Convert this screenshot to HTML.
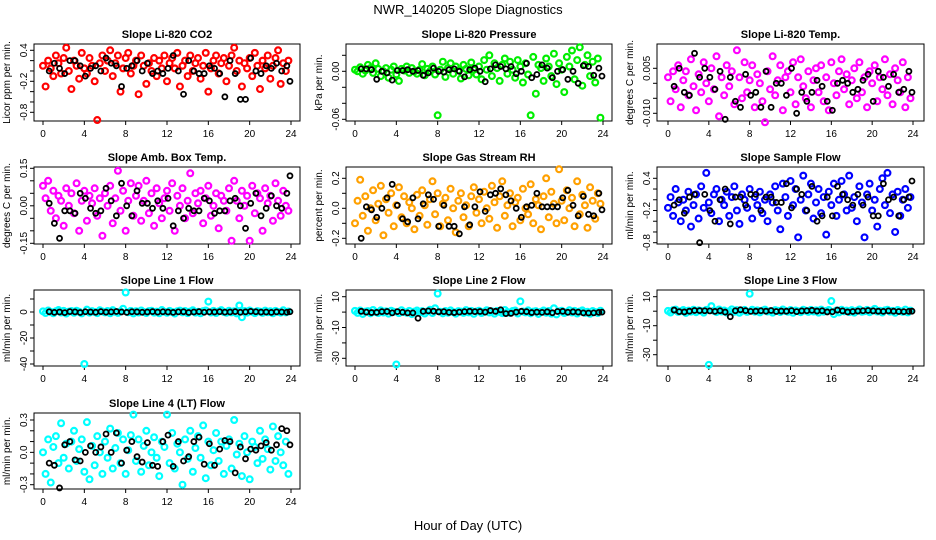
<!DOCTYPE html>
<html><head><meta charset="utf-8"><style>
html,body{margin:0;padding:0;background:#fff;}
svg{display:block;font-family:"Liberation Sans",sans-serif;}
</style></head><body>
<svg id="chart" width="936" height="540" xmlns="http://www.w3.org/2000/svg">
<text x="468" y="14" text-anchor="middle" font-size="13">NWR_140205  Slope Diagnostics</text>
<text x="468" y="530" text-anchor="middle" font-size="13">Hour of Day (UTC)</text>
</svg>
<script>
const hoursColored=[0,0.25,0.5,0.75,1,1.25,1.5,1.75,2,2.25,2.5,2.75,3,3.25,3.5,3.75,4,4.25,4.5,4.75,5,5.25,5.5,5.75,6,6.25,6.5,6.75,7,7.25,7.5,7.75,8,8.25,8.5,8.75,9,9.25,9.5,9.75,10,10.25,10.5,10.75,11,11.25,11.5,11.75,12,12.25,12.5,12.75,13,13.25,13.5,13.75,14,14.25,14.5,14.75,15,15.25,15.5,15.75,16,16.25,16.5,16.75,17,17.25,17.5,17.75,18,18.25,18.5,18.75,19,19.25,19.5,19.75,20,20.25,20.5,20.75,21,21.25,21.5,21.75,22,22.25,22.5,22.75,23,23.25,23.5,23.75];
const hoursBlack=[0.6,1.1,1.6,2.1,2.6,3.1,3.6,4.1,4.6,5.1,5.6,6.1,6.6,7.1,7.6,8.1,8.6,9.1,9.6,10.1,10.6,11.1,11.6,12.1,12.6,13.1,13.6,14.1,14.6,15.1,15.6,16.1,16.6,17.1,17.6,18.1,18.6,19.1,19.6,20.1,20.6,21.1,21.6,22.1,22.6,23.1,23.6,23.9];
const xTicks=[0,4,8,12,16,20,24];

const co2Values=[0.1,-0.3,0.2,0.05,-0.1,0.3,0.15,-0.05,0.25,0.45,0.0,-0.35,0.2,0.1,-0.15,0.35,0.05,-0.05,0.25,0.1,-0.2,-0.95,0.15,0.3,0.0,0.2,0.4,-0.1,0.15,0.3,-0.4,0.05,0.25,0.35,-0.05,0.1,0.2,-0.45,0.3,0.1,-0.25,0.15,0.0,0.25,-0.1,0.2,0.05,0.3,-0.2,0.15,0.25,0.05,0.35,-0.3,0.1,0.2,-0.1,0.3,0.0,0.15,0.25,-0.15,0.1,0.35,-0.4,0.05,0.2,0.3,-0.05,0.15,0.25,-0.2,0.1,0.3,0.45,0.0,0.2,-0.3,0.15,0.05,0.25,-0.1,0.35,0.1,-0.35,0.2,0.05,0.3,-0.15,0.1,0.25,0.4,-0.25,0.15,0.0,0.2];
const co2Black=[0.0,0.15,0.05,-0.05,0.2,0.2,0.1,-0.1,0.05,0.1,0.0,0.25,0.15,0.1,-0.3,0.05,0.1,0.2,0.0,0.15,-0.05,0.0,-0.05,0.05,0.3,0.0,-0.45,0.2,0.0,-0.05,-0.05,0.1,0.05,-0.05,-0.5,0.2,-0.05,-0.55,-0.55,0.25,0.0,-0.05,0.1,0.05,0.15,0.0,0.1,-0.2];
const pressureValues=[0.002,0.0,0.005,-0.003,0.001,0.008,0.004,-0.002,0.01,0.003,-0.006,0.0,0.004,-0.008,0.002,0.006,-0.004,-0.012,0.003,0.001,0.006,-0.002,0.004,0.0,-0.003,0.002,0.009,-0.005,0.003,0.0,0.006,-0.004,-0.055,0.002,0.012,-0.007,0.004,0.01,-0.003,0.006,0.001,-0.009,0.008,0.003,-0.005,0.011,0.002,-0.004,0.006,-0.01,0.014,0.002,0.02,-0.006,0.01,0.004,-0.012,0.008,0.016,-0.003,0.012,0.002,-0.008,0.014,0.006,-0.014,0.01,-0.004,-0.055,0.018,-0.028,0.008,0.004,-0.012,0.016,0.006,-0.006,0.022,-0.016,0.01,0.002,-0.026,0.018,0.006,0.026,-0.01,0.014,0.03,-0.018,0.008,0.02,-0.006,0.012,-0.014,0.016,-0.058];
const pressureBlack=[0.003,0.003,0.002,-0.01,0.0,-0.002,-0.011,0.001,0.001,0.002,0.0,0.001,-0.005,-0.002,0.004,0.0,-0.001,0.002,0.003,0.0,-0.007,0.002,0.004,0.0,-0.013,0.003,0.008,0.006,0.003,0.006,-0.003,0.0,0.01,-0.008,-0.004,0.008,0.004,-0.008,0.0,0.002,-0.01,0.0,-0.015,0.007,0.006,-0.005,0.004,-0.006];
const tempValues=[0.002,-0.006,0.004,-0.002,0.006,-0.008,0.001,0.004,-0.004,0.008,-0.001,-0.009,0.003,-0.003,0.007,0.0,-0.006,0.005,-0.002,0.009,-0.011,0.002,-0.004,0.006,-0.001,0.004,-0.007,0.011,0.002,-0.005,0.007,-0.003,0.001,0.006,-0.008,0.003,0.0,-0.006,-0.013,0.004,-0.002,0.009,-0.004,0.001,0.006,-0.009,0.002,0.004,-0.003,0.007,-0.007,0.002,0.008,-0.001,-0.005,0.004,-0.008,0.001,0.005,-0.003,0.006,-0.006,0.002,-0.009,0.007,0.0,-0.004,0.004,0.008,-0.002,0.003,-0.007,0.001,0.005,-0.005,0.007,-0.003,0.002,-0.008,0.004,0.0,0.006,-0.006,0.002,-0.002,0.008,-0.004,0.003,-0.007,0.005,0.001,-0.003,0.007,-0.008,0.002,-0.005];
const tempBlack=[-0.001,0.005,-0.003,-0.004,0.01,0.002,0.005,0.002,-0.002,0.004,-0.012,0.002,-0.006,-0.008,0.003,-0.004,-0.003,-0.008,0.004,-0.008,0.0,0.0,-0.004,0.005,-0.01,-0.003,-0.006,-0.003,0.001,-0.001,-0.006,-0.009,0.0,0.001,0.0,-0.003,-0.002,0.001,0.003,-0.006,0.004,0.002,-0.001,0.003,-0.003,-0.002,0.004,-0.003];
const ambValues=[0.08,0.03,0.1,-0.02,0.06,-0.05,0.04,0.02,-0.08,0.07,0.0,0.05,-0.03,0.09,-0.1,0.02,0.06,-0.06,0.04,0.01,0.07,-0.04,0.03,-0.12,0.05,0.0,0.08,-0.07,0.03,0.14,-0.02,0.06,-0.1,0.02,0.09,-0.04,0.04,0.08,-0.06,0.02,0.1,-0.03,0.05,-0.08,0.07,0.01,-0.05,0.03,0.06,-0.02,0.09,-0.1,0.04,0.0,0.07,-0.05,0.02,0.13,-0.03,0.05,0.01,0.06,-0.07,0.03,0.08,-0.04,0.0,0.05,-0.09,0.04,0.02,-0.02,0.07,-0.14,0.1,0.02,-0.05,0.06,0.0,0.04,-0.14,0.08,-0.03,0.05,0.03,-0.1,0.07,0.01,0.04,-0.06,0.09,0.02,-0.04,0.06,0.0,-0.02];
const ambBlack=[0.01,-0.07,-0.13,-0.02,-0.02,-0.03,0.05,0.03,-0.01,-0.03,-0.02,0.07,0.02,-0.04,0.09,0.0,-0.04,0.06,0.01,0.01,-0.01,0.02,-0.01,0.03,-0.08,-0.02,-0.05,-0.01,-0.02,-0.02,0.03,0.02,-0.03,-0.02,-0.02,0.02,0.03,0.0,-0.09,0.01,0.05,-0.04,-0.01,0.04,0.0,-0.01,0.05,0.12];
const rhValues=[-0.1,0.05,0.19,-0.05,0.08,-0.15,0.0,0.12,-0.08,0.03,0.15,-0.18,0.06,-0.03,0.1,-0.12,0.02,0.14,-0.06,0.08,-0.1,0.04,0.0,-0.14,0.09,-0.05,0.12,0.02,-0.11,0.06,0.18,-0.04,0.1,-0.12,0.03,0.07,-0.08,0.13,0.0,-0.16,0.05,0.1,-0.06,0.02,-0.12,0.08,0.14,-0.03,0.06,-0.1,0.11,0.0,-0.07,0.15,0.04,-0.13,0.08,0.18,-0.05,0.02,0.1,-0.12,0.04,0.07,-0.08,0.13,0.0,-0.04,0.16,-0.1,0.06,0.02,-0.14,0.08,0.2,-0.06,0.11,0.03,-0.1,0.26,0.05,-0.08,0.12,0.0,0.07,-0.12,0.18,-0.04,0.09,0.02,-0.13,0.14,0.05,-0.07,0.1,0.03];
const rhBlack=[-0.2,0.01,-0.01,-0.06,0.0,0.07,0.16,0.02,-0.07,-0.09,0.07,-0.07,0.03,0.09,0.06,-0.12,0.02,-0.12,-0.12,-0.17,0.01,-0.11,0.01,0.11,-0.02,0.09,0.1,0.13,0.09,0.05,0.0,-0.06,0.01,0.02,0.1,0.01,0.01,0.01,0.01,0.07,0.12,0.02,-0.05,0.08,-0.04,-0.05,0.1,-0.01];
const sampleValues=[-0.15,0.05,-0.3,0.2,-0.05,-0.4,0.0,-0.2,0.15,-0.5,-0.1,0.1,-0.35,0.25,-0.15,0.5,-0.05,-0.25,0.1,0.2,-0.4,0.0,-0.1,0.15,-0.3,0.05,0.25,-0.2,-0.45,0.1,0.0,-0.15,0.2,-0.35,0.05,-0.1,0.15,-0.25,0.0,-0.4,0.1,-0.05,0.25,-0.2,-0.55,0.3,0.05,-0.3,0.35,-0.1,0.2,-0.7,0.0,0.45,-0.2,0.1,0.3,-0.35,-0.05,0.2,-0.25,0.05,-0.65,0.15,-0.1,0.3,-0.3,0.0,0.35,0.1,-0.2,0.45,-0.15,0.05,-0.4,0.25,-0.05,-0.7,0.1,0.3,-0.2,0.0,-0.5,0.2,0.4,-0.1,0.5,-0.25,0.1,-0.6,0.15,-0.3,0.0,0.2,-0.15,0.05];
const sampleBlack=[-0.1,0.0,-0.25,0.05,0.1,-0.8,0.1,-0.2,-0.4,0.0,0.2,-0.45,0.05,0.05,-0.1,0.1,0.1,-0.2,0.05,0.05,-0.05,-0.05,0.3,-0.15,0.2,0.1,-0.2,0.25,-0.4,-0.3,0.05,-0.3,0.25,0.1,0.0,-0.1,0.1,-0.1,0.05,-0.3,-0.3,0.3,0.0,0.05,-0.3,0.0,0.05,0.35];
const line1Values=[0.5,-0.8,1.2,0.0,-1.0,0.6,1.5,-0.4,0.9,-1.2,0.3,0.8,-0.6,1.0,0.2,-1.1,-40,1.8,-0.5,0.7,0.0,-0.9,1.3,0.4,-0.3,0.8,-1.0,1.4,0.1,-0.7,0.5,2.5,15,-0.2,0.9,-1.1,0.6,-0.4,1.2,0.0,-0.8,0.7,1.0,-0.5,0.3,-1.0,1.5,0.2,-0.6,0.9,0.0,-1.2,0.6,1.1,-0.3,0.8,-0.9,0.4,1.3,-0.5,0.2,-1.0,0.7,1.2,8,-0.4,0.9,-0.8,0.5,1.4,0.0,-0.6,1.0,-0.3,0.6,-1.1,5,-4,0.8,-0.5,1.2,0.2,-0.9,0.7,0.3,-0.7,1.1,-0.2,0.6,-1.0,0.9,0.1,-0.5,1.3,-0.3,0.4];
const line1Black=[0.2,-0.3,0.0,-0.5,0.3,0.1,-0.4,0.2,0.0,-0.2,0.3,-0.1,0.1,0.4,0.0,-0.3,0.2,0.1,-0.2,0.0,0.3,-0.1,0.2,0.0,-0.3,0.1,0.2,-0.4,0.0,0.3,-0.2,0.1,0.0,0.2,-0.1,0.0,0.3,-0.2,0.1,0.5,0.2,-0.1,0.0,-0.3,0.1,0.0,-0.2,0.2];
const line2Values=[0.8,-0.5,1.0,-1.2,0.3,0.6,-0.8,1.4,0.0,-0.6,1.1,-0.3,0.5,-1.0,0.9,0.2,-34,-0.7,1.2,0.0,-0.4,0.8,-1.3,0.3,1.0,-0.2,0.6,-0.9,0.4,1.5,-0.6,2.5,12,0.2,-0.8,0.7,-0.4,1.1,0.0,-1.0,0.6,0.3,-0.5,1.3,-0.2,0.8,-1.1,0.4,0.9,-0.6,0.2,1.2,-0.3,0.5,-1.0,0.8,0.1,-0.7,1.4,0.0,-0.5,0.7,1.0,-0.9,7,0.4,-0.2,1.1,-0.8,0.3,0.6,-1.2,0.2,1.0,-0.4,0.7,-1.0,2.5,-1.5,0.5,0.9,-0.6,0.0,1.2,-0.3,0.8,-0.9,0.4,1.1,-0.5,0.2,-1.1,0.7,0.0,-0.6,0.9];
const line2Black=[0.5,0.0,-0.3,-0.2,0.3,0.4,-0.5,0.3,-0.1,-0.5,-0.5,-4.0,0.5,0.8,0.6,0.2,0.3,-0.2,-0.3,0.0,0.3,0.5,0.3,0.4,0.0,1.0,0.5,1.5,-1.0,-0.8,0.0,0.5,0.3,-0.3,0.0,-0.2,0.2,-0.4,0.4,0.5,-0.1,0.2,0.0,-0.5,-0.6,-0.5,-0.2,0.0];
const line3Values=[0.2,-0.9,0.7,1.1,-0.5,0.0,0.8,-1.2,0.4,-0.3,1.0,-0.7,0.6,0.1,-1.0,0.9,-37,3.5,0.3,-0.6,1.2,-0.2,0.5,-0.9,0.0,1.3,-0.4,0.7,-1.1,0.2,0.9,-0.5,12,1.0,-0.3,0.6,-0.8,0.4,1.1,-0.2,0.0,-1.0,0.7,0.3,-0.6,1.2,0.1,-0.4,0.8,-1.1,0.5,0.0,-0.7,1.0,0.3,-0.5,0.9,-0.2,0.6,-1.0,1.1,-0.3,0.2,0.8,7,-2,0.5,-0.8,1.0,-0.1,0.4,-0.6,0.7,-1.0,0.3,1.2,-0.4,0.0,0.9,-0.7,0.5,1.6,-0.2,0.3,-0.9,0.6,1.0,-0.3,0.2,-1.1,0.8,0.0,-0.5,1.1,-0.8,0.4];
const line3Black=[0.8,-0.3,-0.5,0.0,0.5,0.4,0.3,0.2,-0.1,0.3,-0.6,-3.8,0.3,1.0,0.4,-0.1,0.0,0.3,0.0,0.5,-0.2,0.1,0.0,0.4,-0.3,0.2,0.3,0.6,0.1,0.3,-0.5,-0.4,0.8,0.2,-0.5,-0.2,0.1,0.3,0.5,0.2,0.0,-0.1,0.2,0.0,-0.2,-0.3,-0.1,0.0];
const line4Values=[0.0,-0.2,0.12,-0.28,0.05,0.15,-0.1,0.27,-0.05,0.08,-0.15,0.1,0.2,-0.08,0.03,0.12,-0.18,0.28,-0.25,0.06,-0.12,0.15,0.0,-0.2,0.1,-0.05,0.22,-0.15,0.04,0.18,-0.1,0.12,-0.2,0.02,0.16,0.35,-0.08,0.12,-0.18,0.06,0.2,-0.12,0.0,0.14,-0.05,-0.22,0.1,0.05,0.35,-0.1,0.18,-0.15,0.08,0.0,-0.3,0.12,-0.06,0.2,-0.18,0.04,0.15,-0.05,0.25,-0.24,0.1,-0.12,0.02,0.18,-0.08,0.1,-0.2,0.06,0.12,-0.15,0.3,-0.02,0.08,-0.22,0.15,0.0,-0.25,0.1,0.05,-0.1,0.2,-0.06,0.12,0.03,-0.16,0.24,-0.08,0.15,0.0,-0.12,0.1,-0.2];
const line4Black=[-0.1,-0.12,-0.33,0.07,0.1,-0.07,-0.08,0.0,0.06,0.0,0.05,0.17,0.0,0.18,-0.1,0.02,0.1,-0.04,-0.09,0.09,-0.12,-0.13,0.1,0.16,-0.13,0.1,-0.08,-0.04,0.1,0.14,-0.11,0.08,-0.12,0.03,0.11,0.1,-0.19,0.05,-0.06,0.03,0.02,0.06,0.09,0.02,0.07,0.22,0.2,0.07];

const co2Ticks=[0.4,0.2,0,-0.2,-0.4,-0.6,-0.8], co2Labels=["0.4","","","-0.2","","","-0.8"];
const pressureTicks=[0.02,0,-0.02,-0.04,-0.06], pressureLabels=["","0.00","","","-0.06"];
const tempTicks=[0.005,0,-0.005,-0.010], tempLabels=["0.005","","","-0.010"];
const ambTicks=[0.15,0.1,0.05,0,-0.05,-0.1,-0.15], ambLabels=["0.15","","","0.00","","","-0.15"];
const rhTicks=[0.2,0.1,0,-0.1,-0.2], rhLabels=["0.2","","0.0","","-0.2"];
const sampleTicks=[0.4,0.2,0,-0.2,-0.4,-0.6,-0.8], sampleLabels=["0.4","","","-0.2","","","-0.8"];
const line1Ticks=[10,0,-10,-20,-30,-40], line1Labels=["","0","","-20","","-40"];
const line2Ticks=[10,0,-10,-20,-30], line2Labels=["10","","-10","","-30"];
const line3Ticks=[10,0,-10,-20,-30], line3Labels=["10","","-10","","-30"];
const line4Ticks=[0.3,0.2,0.1,0,-0.1,-0.2,-0.3], line4Labels=["0.3","","","0.0","","","-0.3"];

const colBox=[[34,300,43,291],[346,612,355,603],[657,924,668,913]];
const rowBox=[[44,121],[167,244],[290,366],[413,489]];
const panels=[
 {name:"co2",title:"Slope Li-820 CO2",ylab:"Licor ppm per min.",col:0,row:0,color:"#ff0000",ref:[0.4,50.3,-0.8,112.3],v:co2Values,b:co2Black,t:co2Ticks,l:co2Labels},
 {name:"pressure",title:"Slope Li-820 Pressure",ylab:"kPa per min.",col:1,row:0,color:"#00ee00",ref:[0,71.3,-0.06,119.3],v:pressureValues,b:pressureBlack,t:pressureTicks,l:pressureLabels},
 {name:"temp",title:"Slope Li-820 Temp.",ylab:"degrees C per min.",col:2,row:0,color:"#ff00ff",ref:[0.005,68.3,-0.010,113.3],v:tempValues,b:tempBlack,t:tempTicks,l:tempLabels},
 {name:"amb-box-temp",title:"Slope Amb. Box Temp.",ylab:"degrees C per min.",col:0,row:1,color:"#ff00ff",ref:[0.15,168.3,-0.15,243.3],v:ambValues,b:ambBlack,t:ambTicks,l:ambLabels},
 {name:"gas-rh",title:"Slope Gas Stream RH",ylab:"percent per min.",col:1,row:1,color:"#ffa000",ref:[0.2,178.3,-0.2,238.3],v:rhValues,b:rhBlack,t:rhTicks,l:rhLabels},
 {name:"sample-flow",title:"Slope Sample Flow",ylab:"ml/min per min.",col:2,row:1,color:"#0000ff",ref:[0.4,178.3,-0.8,242.7],v:sampleValues,b:sampleBlack,t:sampleTicks,l:sampleLabels},
 {name:"line1-flow",title:"Slope Line 1 Flow",ylab:"ml/min per min.",col:0,row:2,color:"#00ffff",ref:[0,312,-40,364],v:line1Values,b:line1Black,t:line1Ticks,l:line1Labels},
 {name:"line2-flow",title:"Slope Line 2 Flow",ylab:"ml/min per min.",col:1,row:2,color:"#00ffff",ref:[10,296.7,-30,358.3],v:line2Values,b:line2Black,t:line2Ticks,l:line2Labels},
 {name:"line3-flow",title:"Slope Line 3 Flow",ylab:"ml/min per min.",col:2,row:2,color:"#00ffff",ref:[10,296.7,-30,354.7],v:line3Values,b:line3Black,t:line3Ticks,l:line3Labels},
 {name:"line4-flow",title:"Slope Line 4 (LT) Flow",ylab:"ml/min per min.",col:0,row:3,color:"#00ffff",ref:[0.3,420,-0.3,484.7],v:line4Values,b:line4Black,t:line4Ticks,l:line4Labels}
];
const NS="http://www.w3.org/2000/svg";
const svg=document.getElementById('chart');
function mk(tag,attrs,parent){const e=document.createElementNS(NS,tag);for(const k in attrs)e.setAttribute(k,attrs[k]);parent.appendChild(e);return e;}
panels.forEach(p=>{
  const [bl,br,x0,x1]=colBox[p.col];const [bt,bb]=rowBox[p.row];
  const xs=h=>x0+(x1-x0)*h/24;
  const [va,pa,vb,pb]=p.ref;const ys=v=>pa+(v-va)*(pb-pa)/(vb-va);
  const g=mk('g',{},svg);
  
  
  const box=mk('rect',{x:bl,y:bt,width:br-bl,height:bb-bt,fill:'none',stroke:'#000','stroke-width':1},g);
  
  
  const tt=mk('text',{x:(bl+br)/2,y:bt-6,'text-anchor':'middle','font-size':11,'font-weight':'bold'},g);tt.textContent=p.title;
  
  
  const yl=mk('text',{transform:`translate(${bl-24},${(bt+bb)/2}) rotate(-90)`,'text-anchor':'middle','font-size':10},g);yl.textContent=p.ylab;
  
  
  const xa=mk('g',{},g);
  
  
  mk('line',{x1:xs(0),x2:xs(24),y1:bb,y2:bb,stroke:'#000'},xa);
  xTicks.forEach(h=>{mk('line',{x1:xs(h),x2:xs(h),y1:bb,y2:bb+4,stroke:'#000'},xa);
    const t=mk('text',{x:xs(h),y:bb+16,'text-anchor':'middle','font-size':10},xa);t.textContent=h;
    
    });
  const ya=mk('g',{},g);
  
  
  mk('line',{x1:bl,x2:bl,y1:ys(p.t[0]),y2:ys(p.t[p.t.length-1]),stroke:'#000'},ya);
  p.t.forEach((v,i)=>{const y=ys(v);mk('line',{x1:bl-4,x2:bl,y1:y,y2:y,stroke:'#000'},ya);
    if(p.l[i]){const t=mk('text',{transform:`translate(${bl-7},${y}) rotate(-90)`,'text-anchor':'middle','font-size':10},ya);t.textContent=p.l[i];
    
    }});
  const sc=mk('g',{fill:'none',stroke:p.color,'stroke-width':2.2},g);
  
  
  p.v.forEach((v,i)=>{const c=mk('circle',{cx:xs(hoursColored[i]),cy:ys(v),r:2.9},sc);
    
    });
  const sb=mk('g',{fill:'none',stroke:'#000','stroke-width':1.8},g);
  
  
  p.b.forEach((v,i)=>{const c=mk('circle',{cx:xs(hoursBlack[i]),cy:ys(v),r:2.5},sb);
    
    });
});
</script>
</body></html>
